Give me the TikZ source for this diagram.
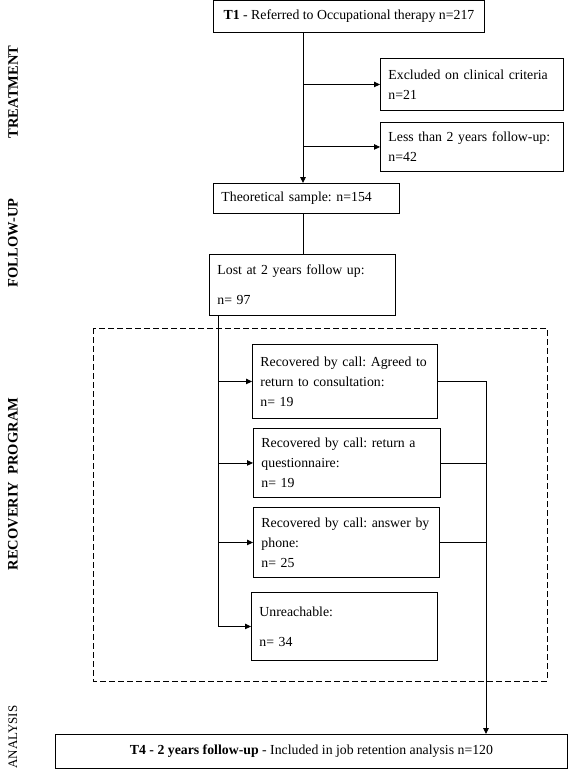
\documentclass[tikz,border=0pt]{standalone}
\usepackage{fontspec}
\setmainfont{Liberation Serif}
\usepackage{tikz}
\usetikzlibrary{positioning,arrows.meta}
\frenchspacing

\begin{document}
\begin{tikzpicture}[x=1pt, y=-1pt,
    box/.style={draw, line width=0.9pt, anchor=north west, align=left,
        inner xsep=8pt, font=\fontsize{13.8}{20}\selectfont},
    link/.style={line width=0.9pt},
    arr/.style={line width=0.9pt, -{Triangle[length=6pt,width=5.5pt]}},
    phase/.style={rotate=90, font=\fontsize{14.5}{16}\selectfont\bfseries}]
    \useasboundingbox (0,0) rectangle (567,770);

    % phase labels on the left
    \foreach \y/\lab in {92/TREATMENT, 243/FOLLOW-UP, 484/{RECOVERIY\ \ PROGRAM}}
        \node[phase] (lab\y) at (13,\y) {\lab};
    \node[phase, font=\fontsize{13}{15}\selectfont] (lab737) at (13,737) {ANALYSIS};

    % treatment
    \node[box, align=center, minimum width=271pt, minimum height=32pt] (t1) at (213,0)
        {\textbf{T1} - Referred to Occupational therapy n=217};
    \node[box, text width=167pt, minimum height=52pt] (excl) at (380,58)
        {Excluded on clinical criteria\\n=21};
    \node[box, text width=167pt, minimum height=49pt] (less) at (380,122)
        {Less than 2 years follow-up:\\n=42};
    \coordinate (trunk) at (303,0);

    % follow-up
    \node[box, text width=170pt, minimum height=30pt] (theo) at (213,183)
        {Theoretical sample: n=154};
    \node[box, text width=170pt, minimum height=61pt] (lost) at (209,254)
        {Lost at 2 years follow up:\\[10pt]n= 97};
    \draw[arr] (t1.south -| trunk) -- (theo.north -| trunk);
    \draw[arr] (trunk |- excl.west) -- (excl.west);
    \draw[arr] (trunk |- less.west) -- (less.west);
    \draw[link] (theo.south -| trunk) -- (lost.north -| trunk);

    % recovery program
    \draw[line width=0.9pt, dash pattern=on 6pt off 3pt] (93,328) rectangle (547,681);
    \node[box, text width=169pt, minimum height=74pt] (rec1) at (252,344)
        {Recovered by call: Agreed to\\return to consultation:\\n= 19};
    \node[box, text width=171pt, minimum height=69pt] (rec2) at (253,428)
        {Recovered by call: return a\\questionnaire:\\n= 19};
    \node[box, text width=170pt, minimum height=70pt] (rec3) at (253,507)
        {Recovered by call: answer by\\phone:\\n= 25};
    \node[box, text width=170pt, minimum height=68pt] (unreach) at (251,592)
        {Unreachable:\\[10pt]n= 34};
    \coordinate (drop) at (218,0);
    \coordinate (merge) at (486,0);
    \draw[link] (lost.south -| drop) -- (unreach.west -| drop);
    \foreach \n in {rec1, rec2, rec3, unreach}
        \draw[arr] (drop |- \n.west) -- (\n.west);
    \foreach \n in {rec1, rec2, rec3}
        \draw[link] (\n.east) -- (\n.east -| merge);

    % analysis
    \node[box, align=center, minimum width=512pt, minimum height=34pt] (t4) at (55,734)
        {\textbf{T4 - 2 years follow-up} - Included in job retention analysis n=120};
    \draw[arr] (rec1.east -| merge) -- (t4.north -| merge);
\end{tikzpicture}
\end{document}
